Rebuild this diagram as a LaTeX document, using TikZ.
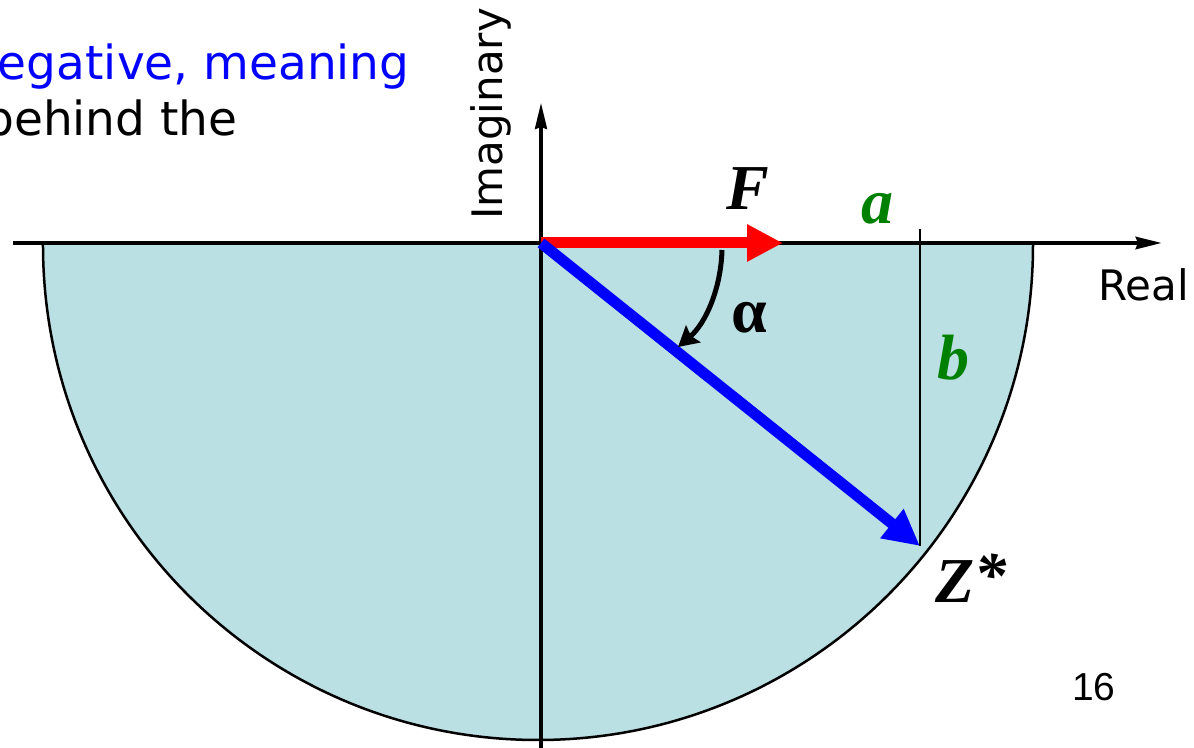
\documentclass[tikz,border=0pt]{standalone}
\usepackage{fontspec}
\setmainfont{Liberation Serif}
\setsansfont{DejaVu Sans}
\newfontfamily\arialfont{Liberation Sans}
\usepackage{xcolor}
\usetikzlibrary{arrows.meta}
\definecolor{azul}{HTML}{0000FF}
\definecolor{rojo}{HTML}{FF0000}
\definecolor{verde}{HTML}{008000}
\definecolor{celeste}{HTML}{BAE0E3}

\begin{document}
\begin{tikzpicture}[x=0.5pt, y=0.5pt,
  eje/.style={-{Stealth[length=13pt, width=6pt, inset=1pt]}},
  vector/.style={line width=5.5pt, -{Triangle[length=18pt, width=17.5pt]}},
  etiq/.style={font=\fontsize{32}{36}\selectfont\bfseries\itshape, inner sep=0pt},
  rotulo/.style={font=\sffamily\fontsize{21}{24}\selectfont, inner sep=0pt}]
  \useasboundingbox (-541,-505) rectangle (653,243);
  \coordinate (O) at (0,0);
  \coordinate (Z) at (379,-303);
  \coordinate (F) at (242,0);
  \coordinate (izq) at (-528,0);
  \coordinate (der) at (621,0);
  \coordinate (abajo) at (0,-505);
  \coordinate (arriba) at (0,140);
  \coordinate (btop) at (379,14);
  \coordinate (a1) at (181,-7);
  \coordinate (a2) at (137,-104);
  \fill[celeste] (-498,-2) arc[start angle=180, end angle=360, radius=495] -- cycle;
  \draw[line width=1.25pt] (-498,-2) arc[start angle=180, end angle=360, radius=495];
  \draw[eje, line width=2.2pt] (izq) -- (der);
  \draw[eje, line width=1.6pt] (abajo) -- (arriba);
  \draw[line width=0.85pt] (btop) -- (Z);
  \draw[vector, rojo] (O) -- (F);
  \draw[vector, azul] (O) -- (Z);
  \draw[line width=2.5pt, -{Stealth[length=10pt, width=11pt, inset=1.5pt]}]
    (a1) .. controls (180,-45) and (165,-80) .. (a2);
  \node[etiq] (lF) at (207,54) {F};
  \node[etiq, verde] (la) at (336,34) {a};
  \node[etiq, verde] (lb) at (412,-115) {b};
  \node[font=\fontsize{32}{36}\selectfont\bfseries, inner sep=0pt] (lalfa) at (208,-75) {α};
  \node[etiq] (lZ) at (430,-335) {Z\raisebox{3pt}{*}};
  \node[rotulo, anchor=base west] (lreal) at (557,-58) {Real};
  \node[rotulo, rotate=90, anchor=base] (limag) at (-38,129) {Imaginary};
  \node[font=\sffamily\fontsize{23.5}{28}\selectfont, text=azul, anchor=base east, inner sep=0pt] (linea1) at (-131,163) {egative, meaning};
  \node[font=\sffamily\fontsize{23.5}{28}\selectfont, anchor=base east, inner sep=0pt] (linea2) at (-303,107) {behind the};
  \node[font=\arialfont\fontsize{19.5}{22}\selectfont, inner sep=0pt] (pagina) at (553,-444) {16};
\end{tikzpicture}
\end{document}
